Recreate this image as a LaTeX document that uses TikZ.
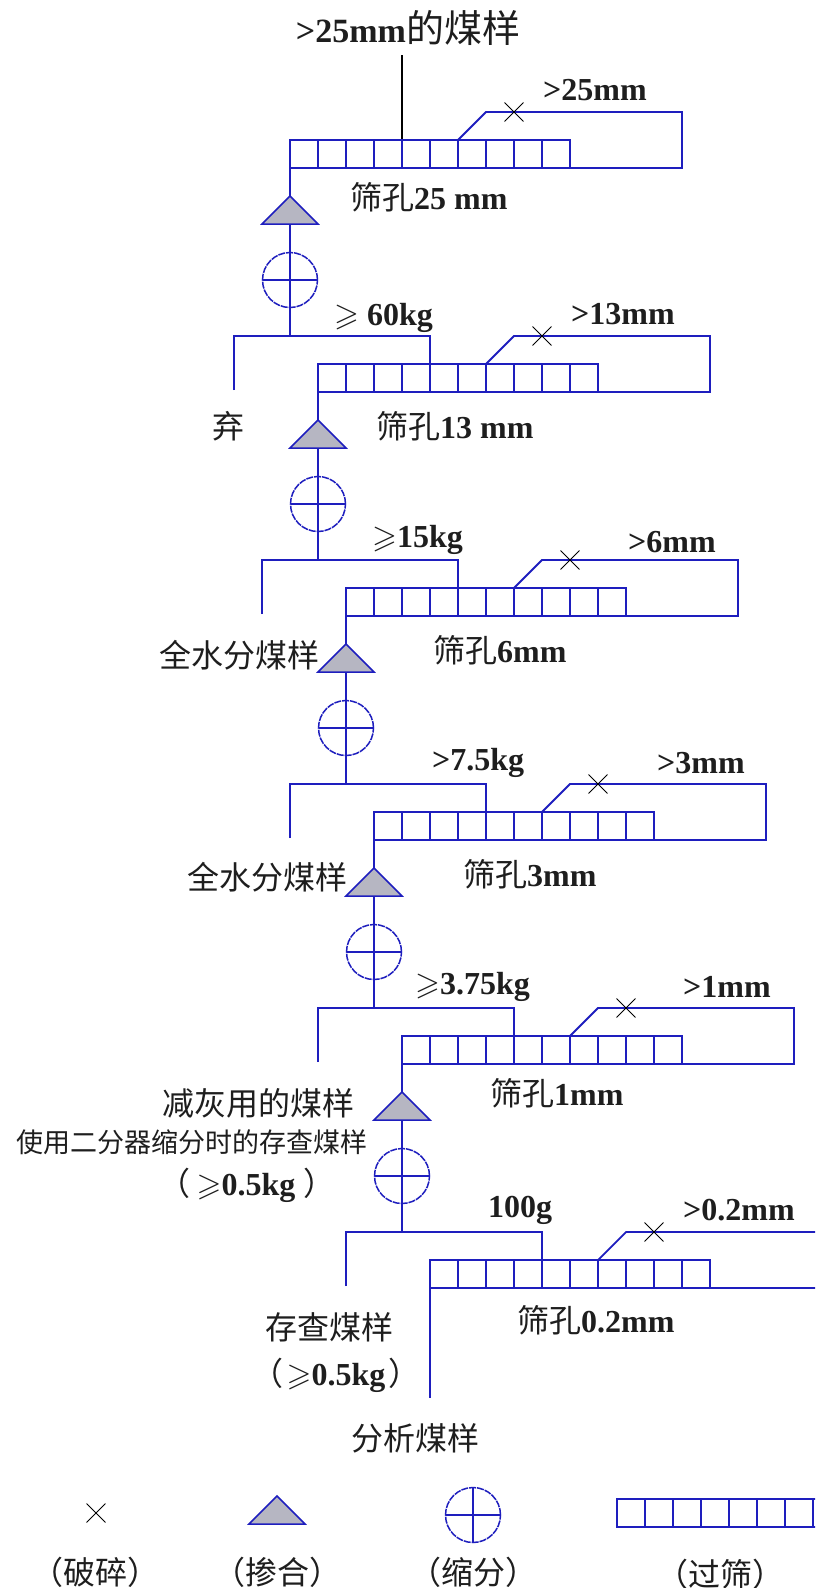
\documentclass[tikz,border=0pt]{standalone}
\usepackage{amssymb}
\usepackage{fontspec}
\setmainfont{Liberation Serif}
\newfontfamily\cjk{Noto Sans CJK SC}
\usetikzlibrary{calc,shapes.misc}
\definecolor{lineblue}{RGB}{30,30,190}
\definecolor{trifill}{RGB}{182,182,194}
\definecolor{txt}{RGB}{30,30,30}
\newcommand{\zhs}[1]{{\cjk\mdseries\fontsize{32}{34}\selectfont #1}}
\begin{document}
\begin{tikzpicture}[x=1pt,y=-1pt,
  flow/.style={draw=lineblue,line width=1.8pt},
  sievebox/.style={draw=lineblue,line width=1.8pt,minimum width=280pt,minimum height=28pt,
    inner sep=0pt,outer sep=0pt,anchor=north west,
    path picture={\foreach \i in {1,...,9}{\draw[lineblue,line width=1.8pt]
      ([xshift=\i*28pt]path picture bounding box.north west) --
      ([xshift=\i*28pt]path picture bounding box.south west);}}},
  divbox/.style={circle,draw=lineblue,line width=1.5pt,dash pattern=on 7pt off 1pt,
    minimum size=55pt,inner sep=0pt,outer sep=0pt},
  mixtri/.style={draw=lineblue,line width=1.5pt,fill=trifill,line join=miter},
  crushx/.style={cross out,draw=black,line width=0.9pt,minimum size=18pt,inner sep=0pt},
  lab/.style={text=txt,inner sep=0pt,font=\bfseries\fontsize{32}{34}\selectfont},
  zh/.style={text=txt,inner sep=0pt,font=\cjk\fontsize{32}{34}\selectfont},
]
\useasboundingbox[fill=white] (0,0) rectangle (815,1588);
\clip (0,0) rectangle (815,1588);

% ---------- title and feed line ----------
\node[lab,font=\bfseries\fontsize{34}{36}\selectfont] (title) at (408,28) {>25mm{\cjk\mdseries\fontsize{38}{40}\selectfont 的煤样}};
\coordinate (feedtop) at (402,55);
\coordinate (feedin) at (402,140);
\draw[black,line width=1.3pt] (feedtop) -- (feedin);

% ---------- stages ----------
\foreach \k in {0,...,5}{
  \pgfmathsetmacro\L{290+28*\k}
  \pgfmathsetmacro\T{140+224*\k}
  \node[sievebox] (sv\k) at (\L,\T) {};
  \coordinate (rb\k) at (\L+392,\T+28);
  \coordinate (rt\k) at (\L+392,\T-28);
  \coordinate (dg\k) at (\L+196,\T-28);
  \coordinate (ds\k) at (\L+168,\T);
  \draw[flow] (sv\k.south east) -- (rb\k) -- (rt\k) -- (dg\k) -- (ds\k);
  \node[crushx] (cx\k) at (\L+224,\T-28) {};
  \ifnum\k<5
    \coordinate (ta\k) at (\L,\T+56);
    \coordinate (tb\k) at (\L,\T+84);
    \draw[mixtri] (ta\k) -- (\L+28,\T+84) -- (\L-28,\T+84) -- cycle;
    \draw[flow] (sv\k.south west) -- (ta\k);
    \node[divbox] (dv\k) at (\L,\T+140) {};
    \draw[flow] (tb\k) -- (dv\k.north);
    \draw[flow] (dv\k.north) -- (dv\k.south);
    \draw[flow] (dv\k.west) -- (dv\k.east);
    \coordinate (jn\k) at (\L,\T+196);
    \coordinate (jl\k) at (\L-56,\T+196);
    \coordinate (jle\k) at (\L-56,\T+250);
    \coordinate (jr\k) at (\L+140,\T+196);
    \coordinate (jrt\k) at (\L+140,\T+224);
    \draw[flow] (dv\k.south) -- (jn\k);
    \draw[flow] (jle\k) -- (jl\k) -- (jr\k) -- (jrt\k);
  \else
    \coordinate (outlet) at (\L,1398);
    \draw[flow] (sv\k.south west) -- (outlet);
  \fi
}

% ---------- stage labels ----------
\node[lab,anchor=west] (o0) at (543,90) {>25mm};
\node[lab,anchor=west] (h0) at (350,197) {\zhs{筛孔}25 mm};

\node[lab,anchor=west] (w1) at (334,318) {$\geqslant$ 60kg};
\node[lab,anchor=west] (o1) at (571,314) {>13mm};
\node[lab,anchor=west] (h1) at (376,426) {\zhs{筛孔}13 mm};
\node[zh] (qi) at (228,426) {弃};

\node[lab,anchor=west] (w2) at (372,540) {$\geqslant$15kg};
\node[lab,anchor=west] (o2) at (628,542) {>6mm};
\node[lab,anchor=west] (h2) at (433,650) {\zhs{筛孔}6mm};
\node[zh,anchor=east] (q2) at (320,655) {全水分煤样};

\node[lab,anchor=west] (w3) at (432,763) {>7.5kg};
\node[lab,anchor=west] (o3) at (657,763) {>3mm};
\node[lab,anchor=west] (h3) at (463,874) {\zhs{筛孔}3mm};
\node[zh,anchor=east] (q3) at (348,877) {全水分煤样};

\node[lab,anchor=west] (w4) at (415,987) {$\geqslant$3.75kg};
\node[lab,anchor=west] (o4) at (683,987) {>1mm};
\node[lab,anchor=west] (h4) at (490,1093) {\zhs{筛孔}1mm};
\node[zh,anchor=east] (a4) at (355,1103) {减灰用的煤样};
\node[text=txt,inner sep=0pt,font=\cjk\fontsize{27}{29}\selectfont] (b4) at (192,1142) {使用二分器缩分时的存查煤样};
\node[lab] (c4) at (247,1185) {\zhs{（}\hspace{6pt}$\geqslant$0.5kg\hspace{8pt}\zhs{）}};

\node[lab,anchor=west] (w5) at (488,1210) {100g};
\node[lab,anchor=west] (o5) at (683,1210) {>0.2mm};
\node[lab,anchor=west] (h5) at (517,1320) {\zhs{筛孔}0.2mm};
\node[zh] (a5) at (329,1327) {存查煤样};
\node[lab] (c5) at (336,1375) {\zhs{（}\hspace{3pt}$\geqslant$0.5kg\hspace{3pt}\zhs{）}};
\node[zh] (fx) at (415,1438) {分析煤样};

% ---------- legend ----------
\node[crushx] (lgx) at (96,1513) {};
\coordinate (lgta) at (277,1496);
\draw[mixtri] (lgta) -- (305,1524) -- (249,1524) -- cycle;
\node[divbox] (lgc) at (473,1515) {};
\draw[flow] (lgc.north) -- (lgc.south);
\draw[flow] (lgc.west) -- (lgc.east);
\node[sievebox] (lgs) at (617,1499) {};
\node[zh] (lx) at (95,1572) {（破碎）};
\node[zh] (lt) at (277,1572) {（掺合）};
\node[zh] (lc) at (473,1572) {（缩分）};
\node[zh] (ls) at (720,1574) {（过筛）};
\end{tikzpicture}
\end{document}
